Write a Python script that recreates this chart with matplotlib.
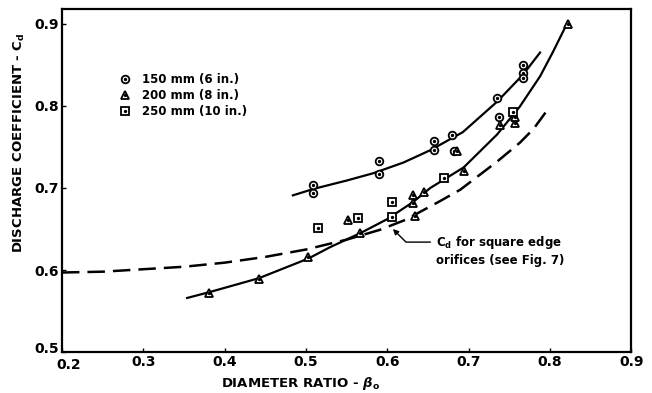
import matplotlib.pyplot as plt
import matplotlib.transforms as mtransforms
from matplotlib.lines import Line2D
from matplotlib.legend_handler import HandlerTuple

plt.rcParams['font.family'] = 'DejaVu Sans'
plt.rcParams['font.weight'] = 'bold'
plt.rcParams['axes.labelweight'] = 'bold'

beta_150 = [0.509, 0.509, 0.590, 0.590, 0.657, 0.657, 0.680, 0.682, 0.735, 0.737, 0.767, 0.767, 0.767]
cd_150 = [0.704, 0.694, 0.733, 0.717, 0.757, 0.746, 0.765, 0.745, 0.810, 0.787, 0.850, 0.840, 0.834]

beta_200 = [0.381, 0.442, 0.503, 0.552, 0.567, 0.632, 0.632, 0.634, 0.645, 0.686, 0.694, 0.739, 0.757, 0.757, 0.822]
cd_200 = [0.572, 0.589, 0.616, 0.661, 0.645, 0.691, 0.682, 0.666, 0.695, 0.745, 0.721, 0.777, 0.779, 0.786, 0.900]

beta_250 = [0.515, 0.564, 0.606, 0.606, 0.670, 0.755]
cd_250 = [0.651, 0.663, 0.683, 0.665, 0.712, 0.793]

# fitted curves
fit150_x = [0.484, 0.510, 0.550, 0.583, 0.620, 0.653, 0.693, 0.735, 0.767, 0.788]
fit150_y = [0.691, 0.699, 0.709, 0.718, 0.731, 0.746, 0.768, 0.805, 0.838, 0.865]

fit200_x = [0.354, 0.381, 0.442, 0.503, 0.530, 0.567, 0.600, 0.632, 0.653, 0.694, 0.735, 0.763, 0.788, 0.804, 0.820]
fit200_y = [0.566, 0.573, 0.590, 0.614, 0.628, 0.645, 0.662, 0.683, 0.700, 0.725, 0.765, 0.799, 0.836, 0.866, 0.898]

sq_x = [0.200, 0.250, 0.300, 0.350, 0.400, 0.450, 0.500, 0.550, 0.591, 0.622, 0.665, 0.690, 0.735, 0.763, 0.780, 0.797]
sq_y = [0.597, 0.598, 0.601, 0.604, 0.609, 0.616, 0.625, 0.637, 0.649, 0.661, 0.684, 0.698, 0.732, 0.755, 0.772, 0.795]

fig = plt.figure(figsize=(6.52, 3.93), dpi=100)
ax = fig.add_axes([0.095, 0.104, 0.873, 0.873])

# curves
ax.plot(fit150_x, fit150_y, color='black', lw=1.6)
ax.plot(fit200_x, fit200_y, color='black', lw=1.6)
ax.plot(sq_x, sq_y, color='black', lw=1.8, dashes=(7, 3.2))

# data markers: open symbol with a dot in the middle
mk = dict(linestyle='none', color='black', markerfacecolor='white', markeredgewidth=1.3)
dot = dict(linestyle='none', color='black', marker='o', markersize=1.4)
ax.plot(beta_150, cd_150, marker='o', markersize=5.5, **mk)
ax.plot(beta_150, cd_150, **dot)
ax.plot(beta_200, cd_200, marker='^', markersize=6, **mk)
ax.plot(beta_200, cd_200, **dot)
ax.plot(beta_250, cd_250, marker='s', markersize=5.5, **mk)
ax.plot(beta_250, cd_250, **dot)

# legend
h150 = (Line2D([], [], marker='o', markersize=5.5, **mk), Line2D([], [], **dot))
h200 = (Line2D([], [], marker='^', markersize=6, **mk), Line2D([], [], **dot))
h250 = (Line2D([], [], marker='s', markersize=5.5, **mk), Line2D([], [], **dot))
ax.legend([h150, h200, h250], ['150 mm (6 in.)', '200 mm (8 in.)', '250 mm (10 in.)'],
          handler_map={tuple: HandlerTuple(ndivide=1)},
          loc='upper left', bbox_to_anchor=(0.082, 0.845), frameon=False,
          fontsize=8.5, handlelength=1.0, handletextpad=0.9, labelspacing=0.25)

# annotation for the dashed curve
ax.annotate('C$_\\mathregular{d}$ for square edge\norifices (see Fig. 7)',
            xy=(0.607, 0.650), xytext=(0.660, 0.624),
            ha='left', va='center', fontsize=8.5, linespacing=1.3,
            arrowprops=dict(arrowstyle='-|>', color='black', lw=1.0, mutation_scale=8,
                            connectionstyle='angle,angleA=0,angleB=-45,rad=0',
                            relpos=(0, 0.75), shrinkA=2, shrinkB=0))

ax.set_xlim(0.2, 0.9)
ax.set_ylim(0.5, 0.918)
ax.set_xticks([0.2, 0.3, 0.4, 0.5, 0.6, 0.7, 0.8, 0.9])
ax.set_xticklabels(['0.2', '0.3', '0.4', '0.5', '0.6', '0.7', '0.8', '0.9'])
ax.set_yticks([0.5, 0.6, 0.7, 0.8, 0.9])
ax.set_yticklabels(['0.5', '0.6', '0.7', '0.8', '0.9'])
ax.tick_params(direction='in', length=3, width=1, labelsize=10, pad=2)
for s in ax.spines.values():
    s.set_linewidth(1.6)

# the corner labels are nudged apart like in the original
lbl = ax.get_xticklabels()[0]
lbl.set_transform(lbl.get_transform() + mtransforms.ScaledTranslation(5 / 72, -2 / 72, fig.dpi_scale_trans))
lbl = ax.get_yticklabels()[0]
lbl.set_transform(lbl.get_transform() + mtransforms.ScaledTranslation(0, 3 / 72, fig.dpi_scale_trans))

ax.set_xlabel('DIAMETER RATIO - $\\beta_\\mathregular{o}$', fontsize=9.5, fontweight='bold')
ax.xaxis.set_label_coords(0.42, -0.068)
ax.set_ylabel('DISCHARGE COEFFICIENT - C$_\\mathregular{d}$', fontsize=9.5, fontweight='bold')
ax.yaxis.set_label_coords(-0.062, 0.61)

plt.savefig('out.png', dpi=100)
